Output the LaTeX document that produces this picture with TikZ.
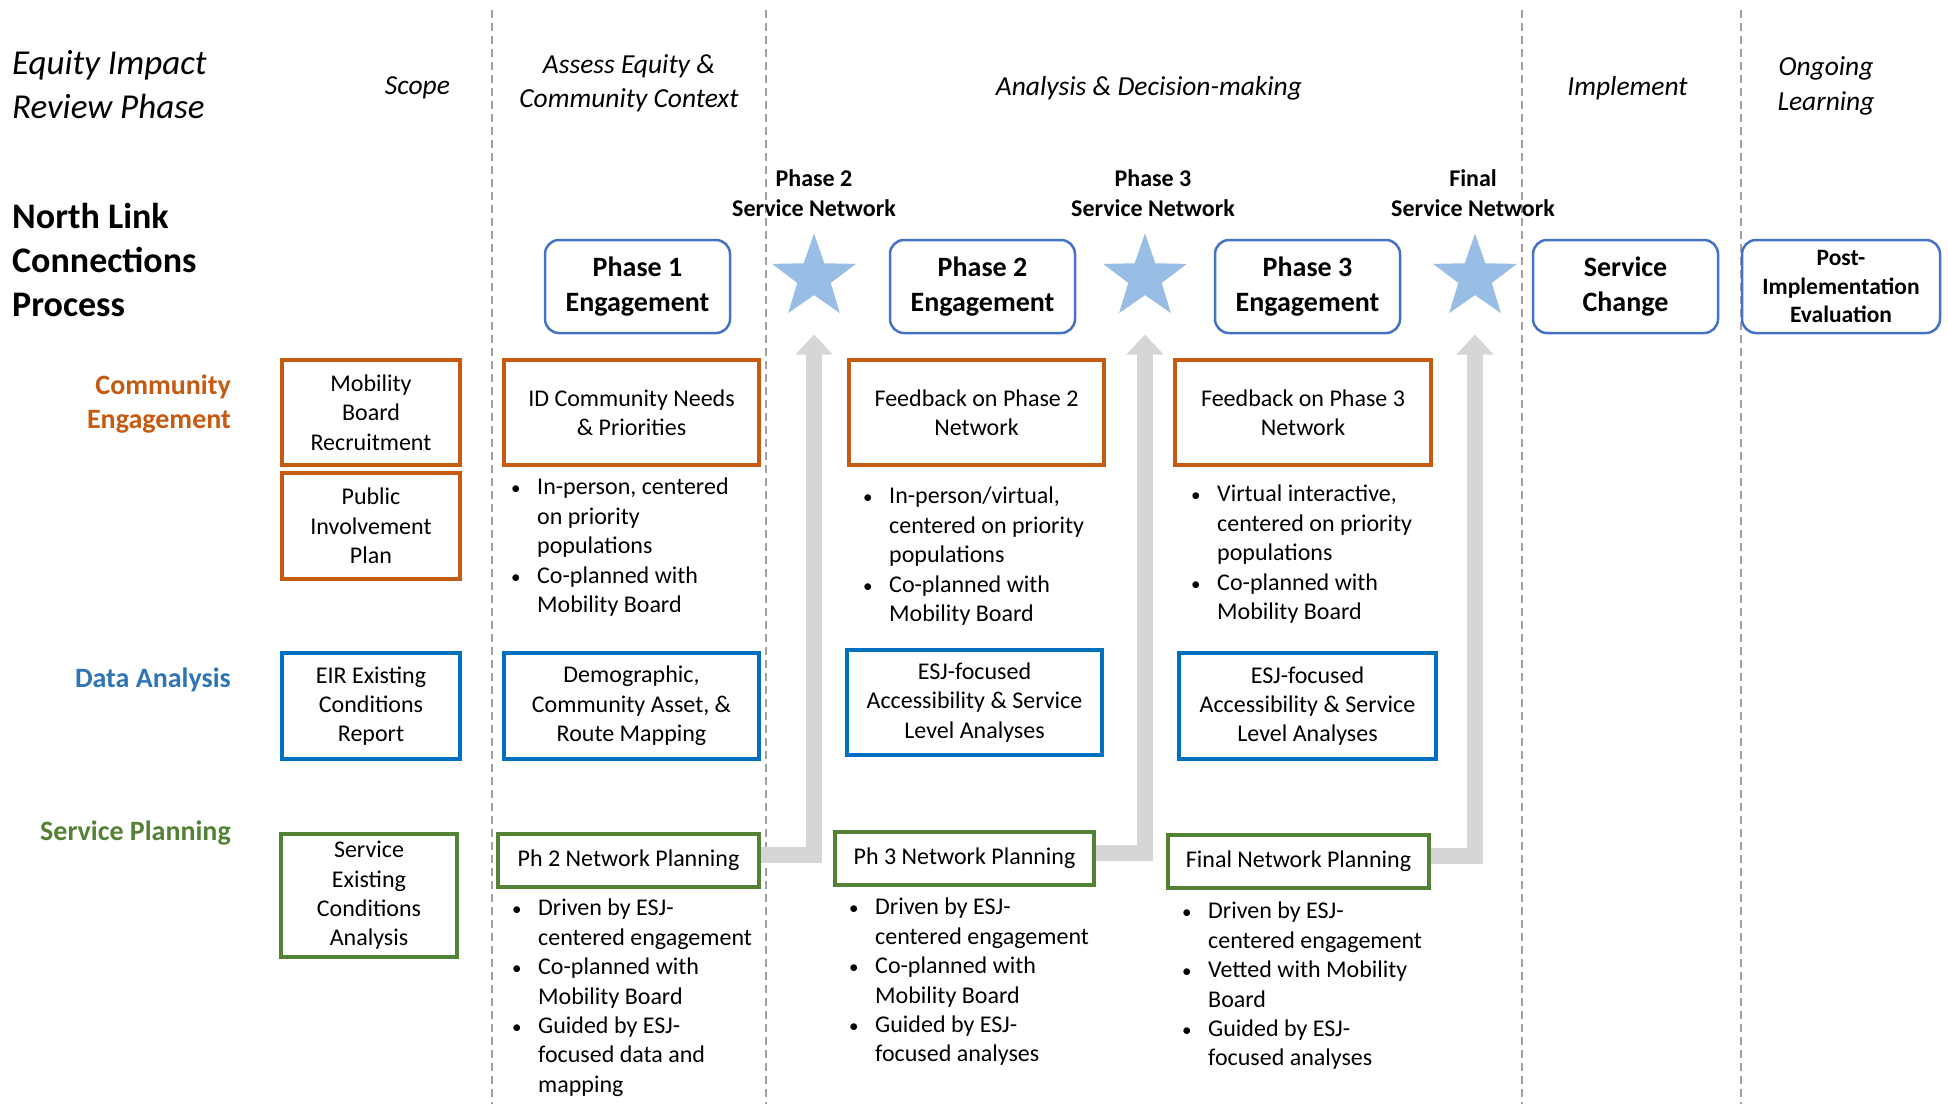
\documentclass[tikz,border=0pt]{standalone}
\usepackage{fontspec}
\setmainfont{Carlito}
\usetikzlibrary{shapes.geometric,arrows.meta}
\definecolor{eorange}{RGB}{197,90,17}
\definecolor{eblue}{RGB}{0,112,192}
\definecolor{egreen}{RGB}{84,130,53}
\definecolor{lblue}{RGB}{46,117,182}
\definecolor{lgreen}{RGB}{83,129,53}
\definecolor{phaseblue}{RGB}{68,114,196}
\definecolor{starblue}{RGB}{152,190,230}
\definecolor{flowgray}{RGB}{214,214,214}
\definecolor{sepgray}{RGB}{160,160,160}
\newcommand\bu{\makebox[27pt][l]{\hspace*{1pt}{\fontsize{19}{19}\selectfont\textbullet}}}
\newcommand\ind{\hspace*{27pt}}
\tikzset{
  phasebox/.style={draw=phaseblue, line width=2.5pt, rounded corners=14pt, align=center, inner sep=0pt,
    font=\bfseries\fontsize{28}{35}\selectfont, minimum height=93pt, minimum width=185pt},
  obox/.style={draw=eorange, line width=3.5pt, align=center, inner sep=0pt, font=\fontsize{24}{29.3}\selectfont},
  bbox/.style={draw=eblue, line width=3.5pt, align=center, inner sep=0pt, font=\fontsize{24}{29.3}\selectfont},
  gbox/.style={draw=egreen, line width=3.5pt, align=center, inner sep=0pt, font=\fontsize{24}{29.3}\selectfont},
  bullets/.style={anchor=north west, align=left, inner sep=0pt, font=\fontsize{24}{29.4}\selectfont},
  starnode/.style={star, star points=5, star point ratio=2.5, fill=starblue, minimum size=88pt, inner sep=0pt},
  flow/.style={draw=flowgray, line width=16pt, line join=miter, -{Triangle[width=36pt,length=20pt]}, shorten >=57pt},
  starlabel/.style={align=center, font=\bfseries\fontsize{24}{29.5}\selectfont},
  hdr/.style={align=center, inner sep=0pt, font=\itshape\fontsize{27.5}{34.5}\selectfont},
  rowlabel/.style={anchor=east, align=right, inner sep=0pt, font=\bfseries\fontsize{28}{33.5}\selectfont},
  sepline/.style={draw=sepgray, line width=1.3pt, dash pattern=on 8pt off 5pt},
}
\begin{document}
\begin{tikzpicture}[x=1pt,y=-1pt]
\fill[white] (0,0) rectangle (1948,1104);
\useasboundingbox (0,0) rectangle (1948,1104);

% column separators
\foreach \sx in {492,766,1522,1741}{
  \draw[sepline] (\sx,10) -- (\sx,1104);
}

% left titles
\node[anchor=west, align=left, inner sep=0pt, font=\itshape\fontsize{35}{44}\selectfont] (eirp) at (12,84.5) {Equity Impact\\Review Phase};
\node[anchor=west, align=left, inner sep=0pt, font=\bfseries\fontsize{36}{44}\selectfont] (nlcp) at (12,260) {North Link\\Connections\\Process};

% column headers
\node[hdr] (hscope) at (417.5,88) {Scope};
\node[hdr] (hassess) at (629,83) {Assess Equity \&\\Community Context};
\node[hdr] (hanalysis) at (1149,88) {Analysis \& Decision-making};
\node[hdr] (himpl) at (1627.5,88) {Implement};
\node[hdr] (hlearn) at (1826,86) {Ongoing\\Learning};

% row labels
\node[rowlabel, text=eorange] (rce) at (231,404) {Community\\Engagement};
\node[rowlabel, text=lblue] (rda) at (231,680) {Data Analysis};
\node[rowlabel, text=lgreen] (rsp) at (231,833) {Service Planning};

% phase boxes
\node[phasebox] (ph1) at (637.5,286.5) {Phase 1\\Engagement};
\node[phasebox] (ph2) at (982.5,286.5) {Phase 2\\Engagement};
\node[phasebox] (ph3) at (1307.5,286.5) {Phase 3\\Engagement};
\node[phasebox] (sch) at (1625.5,286.5) {Service\\Change};
\node[phasebox, minimum width=198pt, font=\bfseries\fontsize{23.5}{28.6}\selectfont] (pie) at (1841,286.5) {Post-\\Implementation\\Evaluation};

% star labels
\node[starlabel] (l1) at (814,193) {Phase 2\\Service Network};
\node[starlabel] (l2) at (1153,193) {Phase 3\\Service Network};
\node[starlabel] (l3) at (1473,193) {Final\\Service Network};

% scope column
\node[obox, minimum width=178pt, minimum height=105pt] (mbr) at (371,412.5) {Mobility\\Board\\Recruitment};
\node[obox, minimum width=178pt, minimum height=106pt] (pip) at (371,526) {Public\\Involvement\\Plan};
\node[bbox, minimum width=178pt, minimum height=106pt] (eir) at (371,706) {EIR Existing\\Conditions\\Report};
\node[gbox, minimum width=176pt, minimum height=123pt] (sec) at (369,895.5) {Service\\Existing\\Conditions\\Analysis};

% column 2
\node[obox, minimum width=255pt, minimum height=105pt] (idc) at (631.5,412.5) {ID Community Needs\\\& Priorities};
\node[bbox, minimum width=255pt, minimum height=106pt] (dem) at (631.5,706) {Demographic,\\Community Asset, \&\\Route Mapping};
\node[gbox, minimum width=261pt, minimum height=53pt] (p2) at (628.5,860.5) {Ph 2 Network Planning};
\node[bullets] (b2a) at (510,478) {\bu In-person, centered\\\ind on priority\\\ind populations\\\bu Co-planned with\\\ind Mobility Board};
\node[bullets] (b2b) at (511,899) {\bu Driven by ESJ-\\\ind centered engagement\\\bu Co-planned with\\\ind Mobility Board\\\bu Guided by ESJ-\\\ind focused data and\\\ind mapping};

% column 3
\node[obox, minimum width=255pt, minimum height=105pt] (fb2) at (976.5,412.5) {Feedback on Phase 2\\Network};
\node[bbox, minimum width=255pt, minimum height=105pt] (esj2) at (974.5,702.5) {ESJ-focused\\Accessibility \& Service\\Level Analyses};
\node[gbox, minimum width=259pt, minimum height=53pt] (p3) at (964.5,858.5) {Ph 3 Network Planning};
\node[bullets] (b3a) at (862,487) {\bu In-person/virtual,\\\ind centered on priority\\\ind populations\\\bu Co-planned with\\\ind Mobility Board};
\node[bullets] (b3b) at (848,898) {\bu Driven by ESJ-\\\ind centered engagement\\\bu Co-planned with\\\ind Mobility Board\\\bu Guided by ESJ-\\\ind focused analyses};

% column 4
\node[obox, minimum width=256pt, minimum height=105pt] (fb3) at (1303,412.5) {Feedback on Phase 3\\Network};
\node[bbox, minimum width=257pt, minimum height=106pt] (esj3) at (1307.5,706) {ESJ-focused\\Accessibility \& Service\\Level Analyses};
\node[gbox, minimum width=261pt, minimum height=53pt] (p4) at (1298.5,861.5) {Final Network Planning};
\node[bullets] (b4a) at (1190,485) {\bu Virtual interactive,\\\ind centered on priority\\\ind populations\\\bu Co-planned with\\\ind Mobility Board};
\node[bullets] (b4b) at (1181,902) {\bu Driven by ESJ-\\\ind centered engagement\\\bu Vetted with Mobility\\\ind Board\\\bu Guided by ESJ-\\\ind focused analyses};

% stars
\node[starnode] (s1) at (814,277.5) {};
\node[starnode] (s2) at (1145,277.5) {};
\node[starnode] (s3) at (1475,277.5) {};

% flow arrows
\draw[flow] ([yshift=6pt]p2.east) -| (s1.center);
\draw[flow] ([yshift=6pt]p3.east) -| (s2.center);
\draw[flow] ([yshift=6pt]p4.east) -| (s3.center);
\end{tikzpicture}
\end{document}
